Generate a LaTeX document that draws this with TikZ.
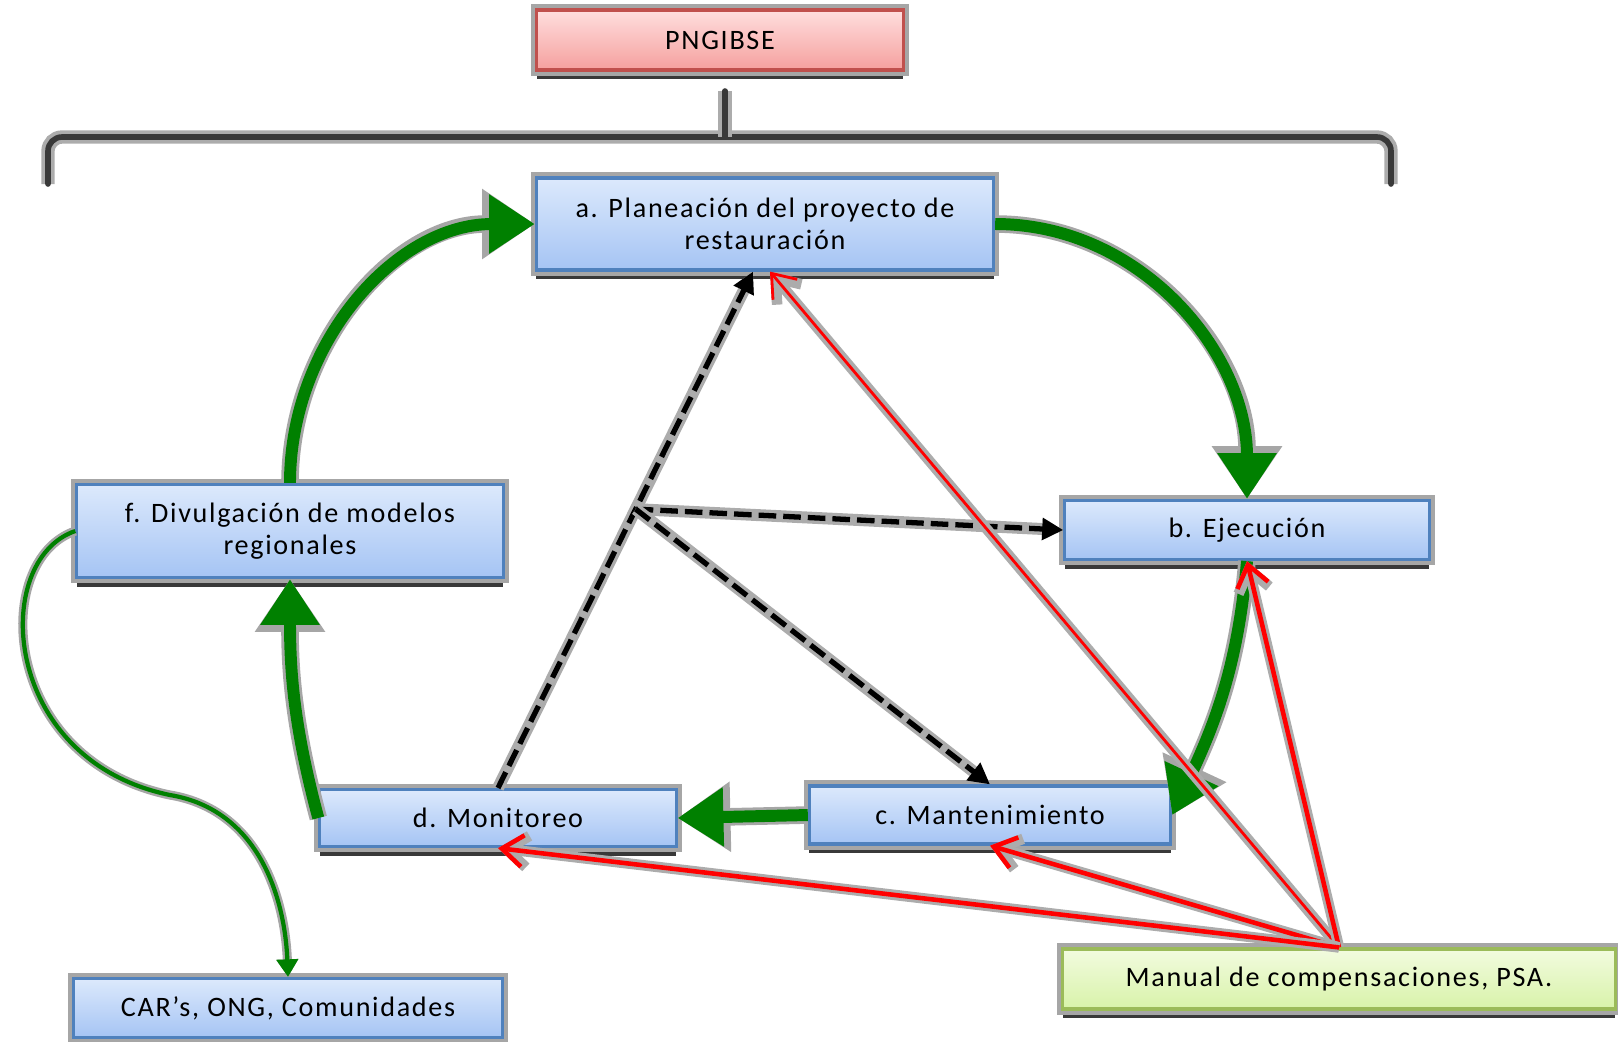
\documentclass[tikz,border=0pt]{standalone}
\usepackage{fontspec}
\newfontfamily\boxfont{Carlito}[LetterSpace=6]
\usetikzlibrary{arrows.meta,calc,shadows}

\definecolor{blueline}{HTML}{4F81BD}
\definecolor{bluetop}{HTML}{DCE9FC}
\definecolor{bluebot}{HTML}{A5C4F4}
\definecolor{redline}{HTML}{C0504D}
\definecolor{redtop}{HTML}{FFDEDE}
\definecolor{redbot}{HTML}{F5A09E}
\definecolor{grnline}{HTML}{9BBB59}
\definecolor{grntop}{HTML}{F2FBDF}
\definecolor{grnbot}{HTML}{D8F3A9}
\definecolor{flowgreen}{HTML}{008000}

\begin{document}
\begin{tikzpicture}[x=0.01cm, y=-0.01cm,
	box/.style={rectangle, draw=blueline, line width=0.9pt, top color=bluetop, bottom color=bluebot,
		align=center, inner sep=0pt, text=black, font=\boxfont\fontsize{8}{9}\selectfont,
		drop shadow={shadow xshift=0pt, shadow yshift=-2.6pt, fill=gray!45!black, opacity=1},
		preaction={draw=gray!70, line width=3.2pt}},
	flow/.style={draw=flowgreen, line width=3.4pt, -{Triangle[length=13pt,width=16pt]},
		preaction={draw=gray!70, line width=5pt, -{Triangle[length=15pt,width=19pt]}}},
	thinflow/.style={draw=flowgreen, line width=1.2pt, -{Triangle[length=5pt,width=6pt]},
		preaction={draw=gray!70, line width=2.6pt}},
	link/.style={draw=black, line width=1.5pt, dash pattern=on 5pt off 2pt, -{Triangle[length=6pt,width=6pt]},
		preaction={draw=gray!65, line width=3.4pt, solid}},
	comp/.style={draw=red, line width=1.3pt, -{Straight Barb[length=6pt,width=9pt]},
		preaction={draw=gray!65, line width=3pt}},
	bracket/.style={draw=gray!45!black, line width=1.6pt, rounded corners=4pt, line cap=round,
		preaction={draw=gray!65, line width=3.8pt}}]
	\useasboundingbox (0,0) rectangle (1618,1041);

	% Draw bracket
	\draw[bracket] (48,184) -- (48,137) -- (1391,137) -- (1391,184);
	\draw[bracket] (725,91) -- (725,137);

	% Draw boxes
	\node[box, draw=redline, top color=redtop, bottom color=redbot, minimum width=3.66cm, minimum height=0.60cm] (png) at (720,40) {PNGIBSE};
	\node[box, minimum width=4.57cm, minimum height=0.92cm] (a) at (765,224) {a. Planeación del proyecto de\\restauración};
	\node[box, minimum width=3.64cm, minimum height=0.59cm] (b) at (1247,530) {b. Ejecución};
	\node[box, minimum width=3.61cm, minimum height=0.58cm] (c) at (990,815) {c. Mantenimiento};
	\node[box, minimum width=3.56cm, minimum height=0.57cm] (d) at (498,818) {d. Monitoreo};
	\node[box, minimum width=4.26cm, minimum height=0.93cm] (f) at (290,531) {f. Divulgación de modelos\\regionales};
	\node[box, minimum width=4.29cm, minimum height=0.59cm] (car) at (288,1008) {CAR’s, ONG, Comunidades};
	\node[box, draw=grnline, top color=grntop, bottom color=grnbot, minimum width=5.52cm, minimum height=0.60cm] (m) at (1339,979) {Manual de compensaciones, PSA.};

	% Draw green cycle
	\draw[flow] (a.east) to[out=0,in=90] (b.north);
	\draw[flow] (b.south) to[out=-95,in=65] (c.east);
	\draw[flow] (c.west) -- (d.east);
	\draw[flow] (d.west) to[out=105,in=-90] (f.south);
	\draw[flow] (f.north) to[out=90,in=180] (a.west);

	% Draw dashed links
	\coordinate (atip) at ($(a.south)+(-12,0)$);
	\coordinate (hub) at ($(d.north)!0.54!(atip)$);
	\draw[link] (d.north) -- (atip);
	\draw[link] (hub) -- (b.west);
	\draw[link] (hub) -- (c.north);

	% Draw red links
	\draw[comp, line width=0.8pt] (m.north) -- ($(a.south)+(5,0)$);
	\draw[comp] (m.north) -- (b.south);
	\draw[comp] (m.north) -- (c.south);
	\draw[comp] (m.north) -- (d.south);

	% Draw thin link to CAR's
	\coordinate (bend) at (170,795);
	\draw[thinflow] (f.west) .. controls (-10,560) and (0,760) .. (bend) .. controls (260,810) and (285,900) .. (car.north);
\end{tikzpicture}
\end{document}
